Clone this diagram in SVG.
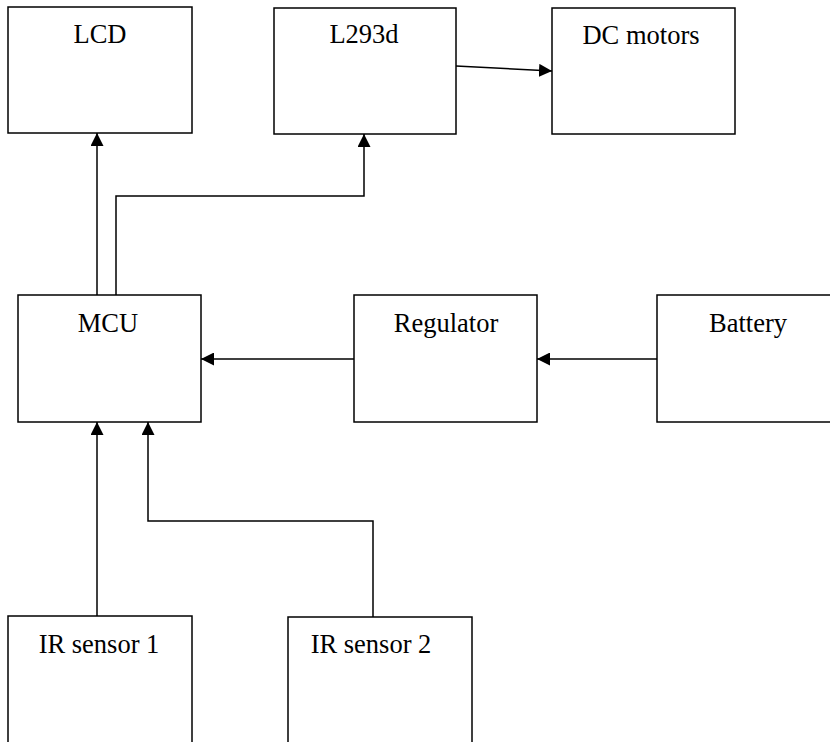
<svg xmlns="http://www.w3.org/2000/svg" width="830" height="742" viewBox="0 0 830 742">
  <style>
    .box { fill: #ffffff; stroke: #000000; stroke-width: 1.5; }
    .label { font-family: "Liberation Serif", "Times New Roman", serif; font-size: 26.5px; fill: #000000; text-anchor: middle; }
    .wire { fill: none; stroke: #000000; stroke-width: 1.5; }
  </style>
  <defs>
    <marker id="arrow" viewBox="0 0 13 13" refX="13" refY="6.5" markerWidth="13" markerHeight="13" markerUnits="userSpaceOnUse" orient="auto">
      <path d="M0,0 L13,6.5 L0,13 Z" fill="#000000"/>
    </marker>
  </defs>
  <rect x="0" y="0" width="830" height="742" fill="#ffffff"/>

  <g id="lcd">
    <rect class="box" x="8" y="7" width="184" height="126"/>
    <text class="label" x="100" y="43">LCD</text>
  </g>
  <g id="l293d">
    <rect class="box" x="274" y="8" width="182" height="126"/>
    <text class="label" x="364" y="43">L293d</text>
  </g>
  <g id="dc-motors">
    <rect class="box" x="552" y="8" width="183" height="126"/>
    <text class="label" x="641" y="44">DC motors</text>
  </g>
  <g id="mcu">
    <rect class="box" x="18" y="295" width="183" height="127"/>
    <text class="label" x="108" y="332">MCU</text>
  </g>
  <g id="regulator">
    <rect class="box" x="354" y="295" width="183" height="127"/>
    <text class="label" x="446" y="332">Regulator</text>
  </g>
  <g id="battery">
    <rect class="box" x="657" y="295" width="190" height="127"/>
    <text class="label" x="748" y="332">Battery</text>
  </g>
  <g id="ir-sensor-1">
    <rect class="box" x="8" y="616" width="184" height="140"/>
    <text class="label" x="99" y="653">IR sensor 1</text>
  </g>
  <g id="ir-sensor-2">
    <rect class="box" x="288" y="617" width="184" height="140"/>
    <text class="label" x="371" y="653">IR sensor 2</text>
  </g>

  <g id="connectors">
    <path class="wire" d="M97,295 L97,133" marker-end="url(#arrow)"/>
    <path class="wire" d="M116,295 L116,196 L364,196 L364,134" marker-end="url(#arrow)"/>
    <path class="wire" d="M456,66 L552,71" marker-end="url(#arrow)"/>
    <path class="wire" d="M354,359 L201,359" marker-end="url(#arrow)"/>
    <path class="wire" d="M657,359 L537,359" marker-end="url(#arrow)"/>
    <path class="wire" d="M97,616 L97,422" marker-end="url(#arrow)"/>
    <path class="wire" d="M373,617 L373,521 L148,521 L148,422" marker-end="url(#arrow)"/>
  </g>
</svg>
